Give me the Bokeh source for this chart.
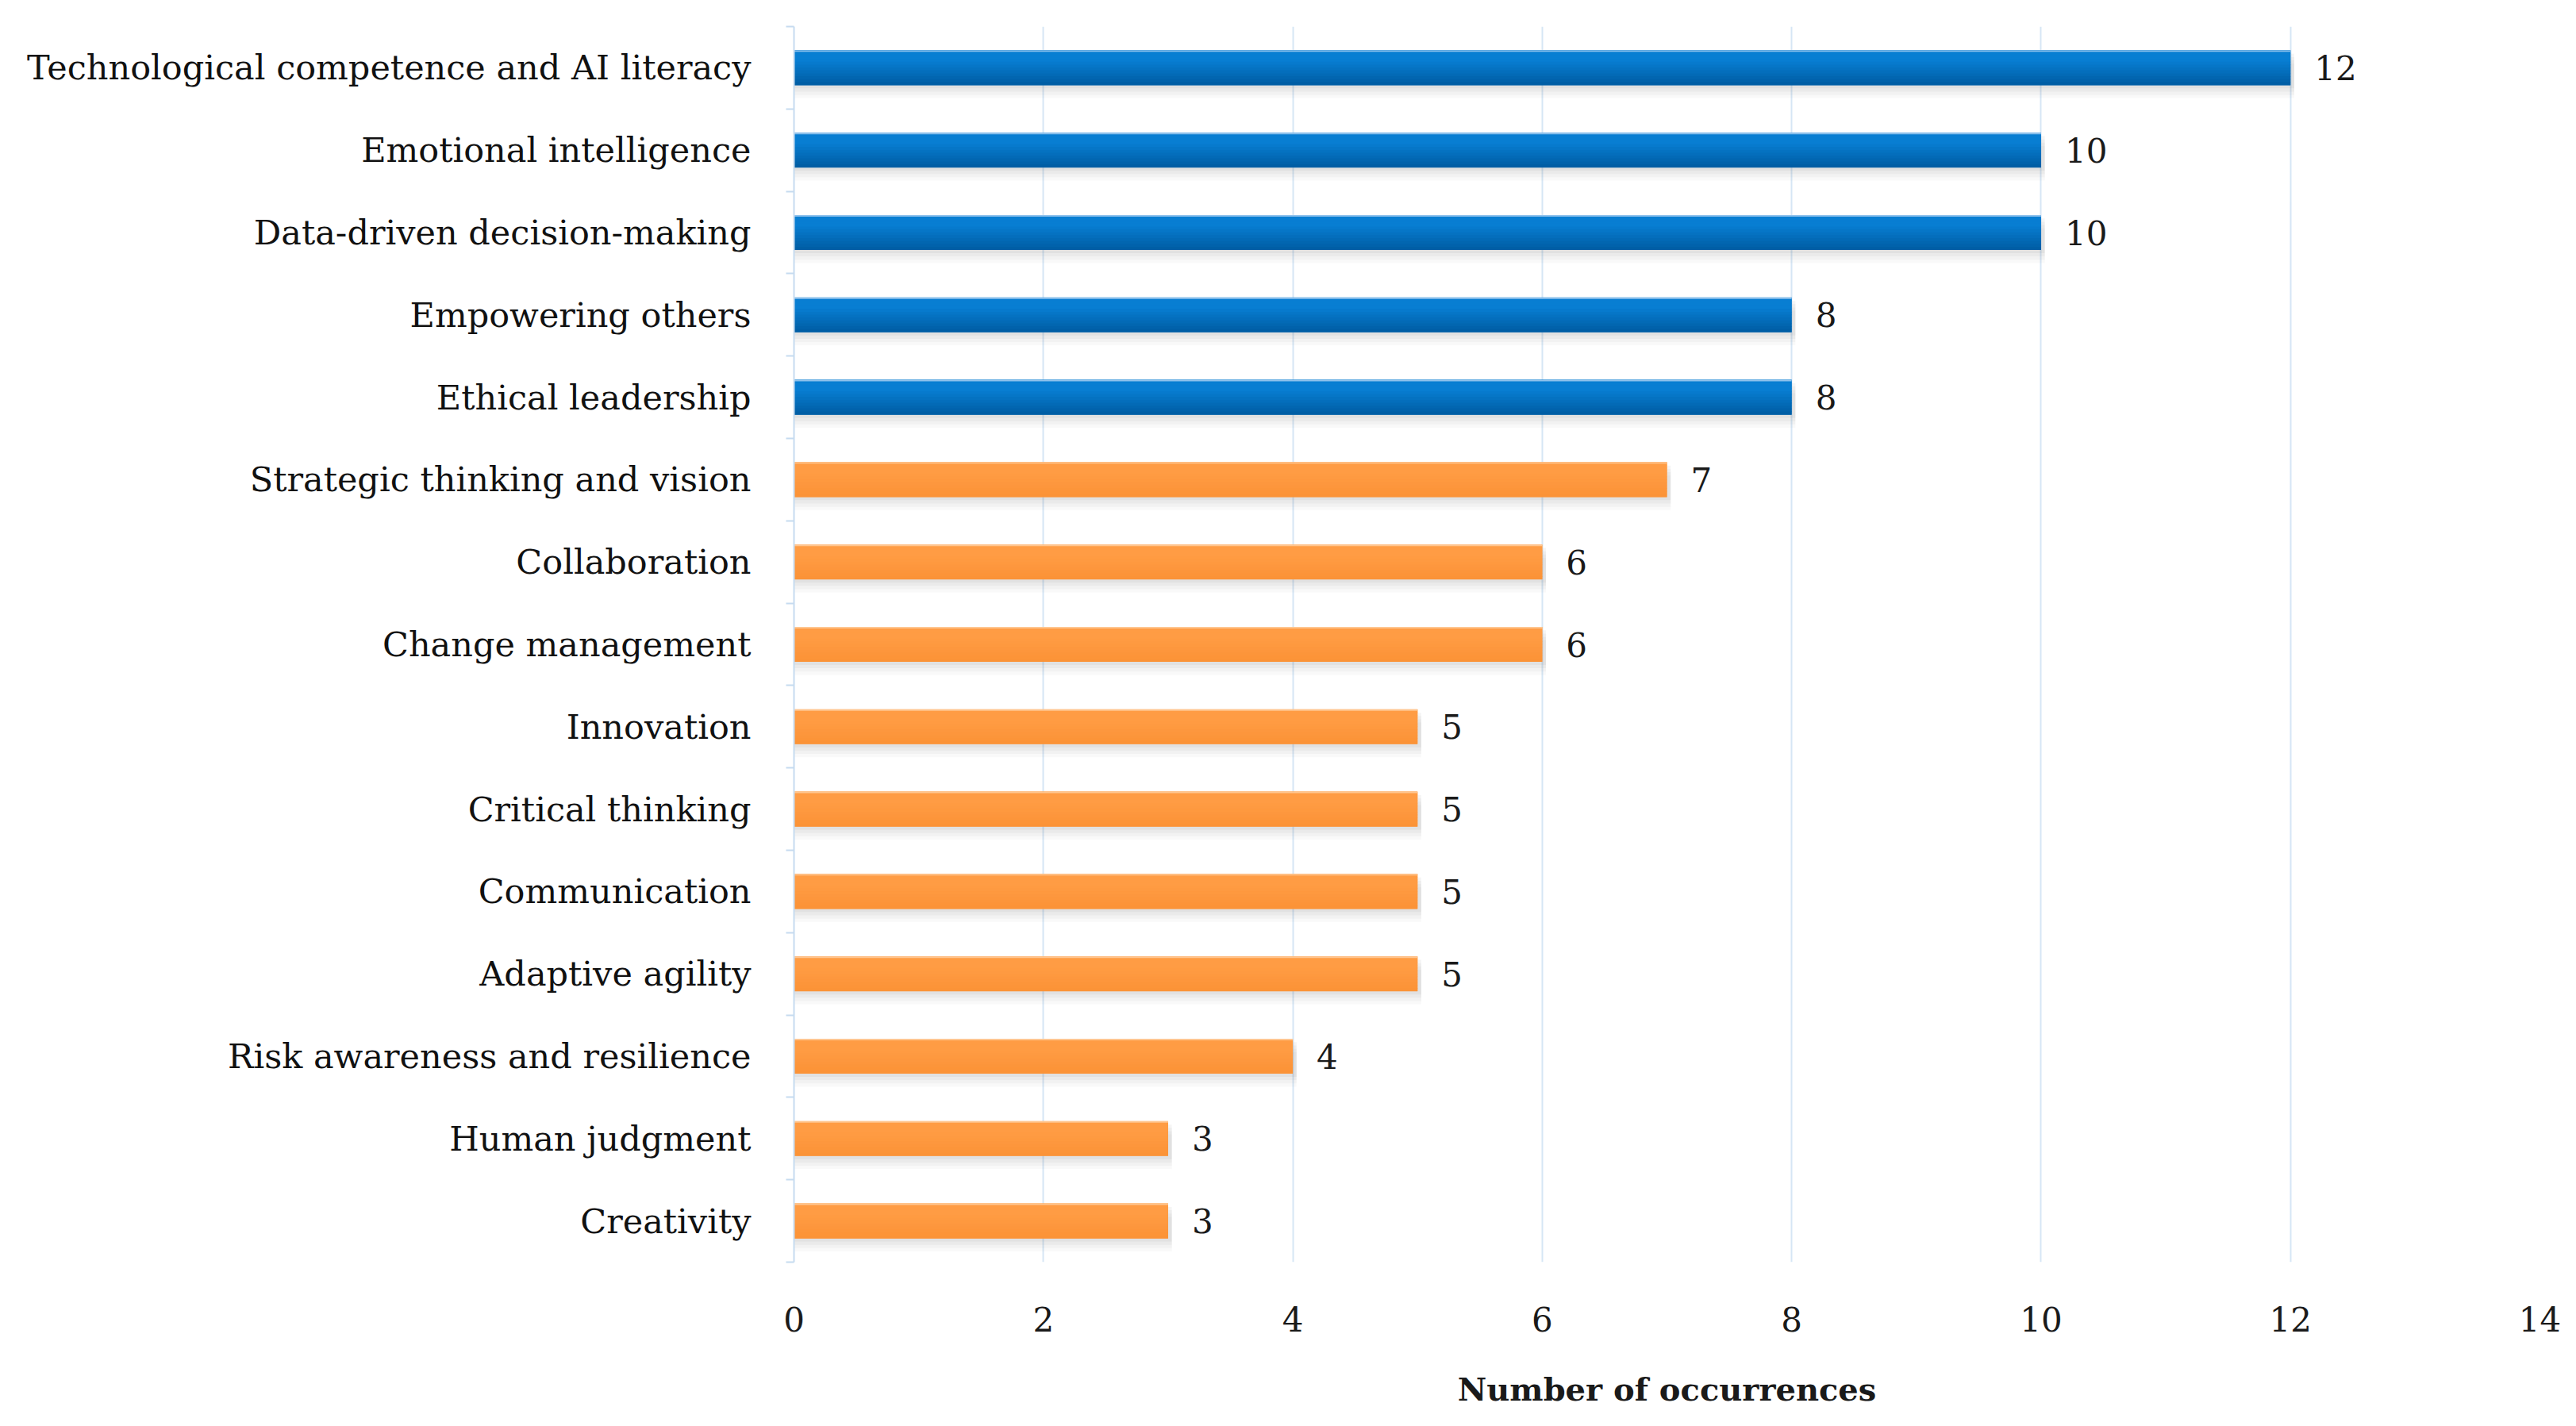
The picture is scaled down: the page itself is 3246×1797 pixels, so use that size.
from bokeh.plotting import figure
from bokeh.models import FixedTicker, ColumnDataSource, Range1d
from bokeh.embed import file_html
from bokeh.resources import INLINE
from bokeh.core.properties import value

categories = [
    "Technological competence and AI literacy",
    "Emotional intelligence",
    "Data-driven decision-making",
    "Empowering others",
    "Ethical leadership",
    "Strategic thinking and vision",
    "Collaboration",
    "Change management",
    "Innovation",
    "Critical thinking",
    "Communication",
    "Adaptive agility",
    "Risk awareness and resilience",
    "Human judgment",
    "Creativity",
]
occurrences = [12, 10, 10, 8, 8, 7, 6, 6, 5, 5, 5, 5, 4, 3, 3]
highlighted = [True] * 5 + [False] * 10
x_ticks = [0, 2, 4, 6, 8, 10, 12, 14]
x_title = "Number of occurrences"

FONT = "DejaVu Serif"
n = len(categories)
pos = [n - 1 - i for i in range(n)]


def hex2rgb(h):
    h = h.lstrip("#")
    return tuple(int(h[i:i + 2], 16) for i in (0, 2, 4))


def mix(a, b, t):
    ra, rb = hex2rgb(a), hex2rgb(b)
    return "#%02x%02x%02x" % tuple(round(ra[k] + (rb[k] - ra[k]) * t) for k in range(3))


BLUE_TOP, BLUE_BOT = "#087ED2", "#005CA2"
ORNG_TOP, ORNG_BOT = "#FF9C44", "#FB9236"

p = figure(
    width=3230, height=1781, output_backend="svg", toolbar_location=None,
    x_range=Range1d(0, 14), y_range=Range1d(-0.5, n - 0.5),
    min_border_left=1000, min_border_right=30, min_border_top=33, min_border_bottom=191,
)
p.outline_line_color = None
p.background_fill_color = "white"
p.border_fill_color = "white"

BH = 0.42

# soft shadow below the bars
for d, a in [(0.04, 0.07), (0.08, 0.06), (0.12, 0.05), (0.16, 0.04)]:
    sh = ColumnDataSource(dict(y=[y - d for y in pos], v=[v + 0.03 for v in occurrences]))
    p.hbar(y="y", right="v", left=0, height=BH, source=sh,
           fill_color="#6F6F6F", fill_alpha=a, line_color=None)

# bar body
body = ColumnDataSource(dict(
    y=pos, v=occurrences,
    c=[mix(BLUE_TOP, BLUE_BOT, 0.4) if h else mix(ORNG_TOP, ORNG_BOT, 0.4) for h in highlighted]))
p.hbar(y="y", right="v", left=0, height=BH, source=body, fill_color="c", line_color=None)

# vertical gradient made of thin strips
NS = 12
for k in range(NS):
    t = (k + 0.5) / NS  # 0 = top, 1 = bottom
    tt = max(0.0, (t - 0.3) / 0.7)
    cols = [mix(BLUE_TOP, BLUE_BOT, tt) if h else mix(ORNG_TOP, ORNG_BOT, tt) for h in highlighted]
    yc = [y + BH / 2 - BH * (k + 0.5) / NS for y in pos]
    s = ColumnDataSource(dict(y=yc, v=occurrences, c=cols))
    p.hbar(y="y", right="v", left=0, height=BH / NS * 1.15, source=s,
           fill_color="c", line_color=None)

# pale top edge
edge = ColumnDataSource(dict(
    y=[y + BH / 2 - 0.008 for y in pos], v=occurrences,
    c=["#8FC2EC" if h else "#FFC690" for h in highlighted]))
p.hbar(y="y", right="v", left=0, height=0.018, source=edge,
       fill_color="c", line_color=None)

# value labels
src = ColumnDataSource(dict(y=pos, v=occurrences, lab=[str(v) for v in occurrences]))
p.text(x="v", y="y", text="lab", source=src, x_offset=30,
       text_baseline="middle", text_align="left",
       text_font=value(FONT), text_font_size="42px", text_color="#1A1A1A")

# x axis
xa = p.xaxis[0]
xa.ticker = FixedTicker(ticks=x_ticks)
xa.axis_line_color = None
xa.major_tick_line_color = None
xa.minor_tick_line_color = None
xa.major_label_standoff = 50
xa.major_label_text_font = FONT
xa.major_label_text_font_size = "42px"
xa.major_label_text_color = "#1A1A1A"
xa.axis_label = x_title
xa.axis_label_standoff = 46
xa.axis_label_text_font = FONT
xa.axis_label_text_font_size = "40px"
xa.axis_label_text_font_style = "bold"
xa.axis_label_text_color = "#1A1A1A"

# y axis
ya = p.yaxis[0]
ya.ticker = FixedTicker(ticks=pos, minor_ticks=[y + 0.5 for y in pos] + [-0.5])
ya.major_label_overrides = {y: c for y, c in zip(pos, categories)}
ya.axis_line_color = "#C6DBF0"
ya.axis_line_width = 2
ya.major_tick_line_color = None
ya.minor_tick_line_color = "#C6DBF0"
ya.minor_tick_line_width = 2
ya.minor_tick_out = 10
ya.minor_tick_in = 0
ya.major_label_standoff = 44
ya.major_label_text_font = FONT
ya.major_label_text_font_size = "43px"
ya.major_label_text_color = "#111111"

p.xgrid.ticker = FixedTicker(ticks=x_ticks)
p.xgrid.grid_line_color = "#D6E6F5"
p.xgrid.grid_line_width = 2
p.ygrid.grid_line_color = None

open("out.html", "w").write(file_html(p, INLINE))
